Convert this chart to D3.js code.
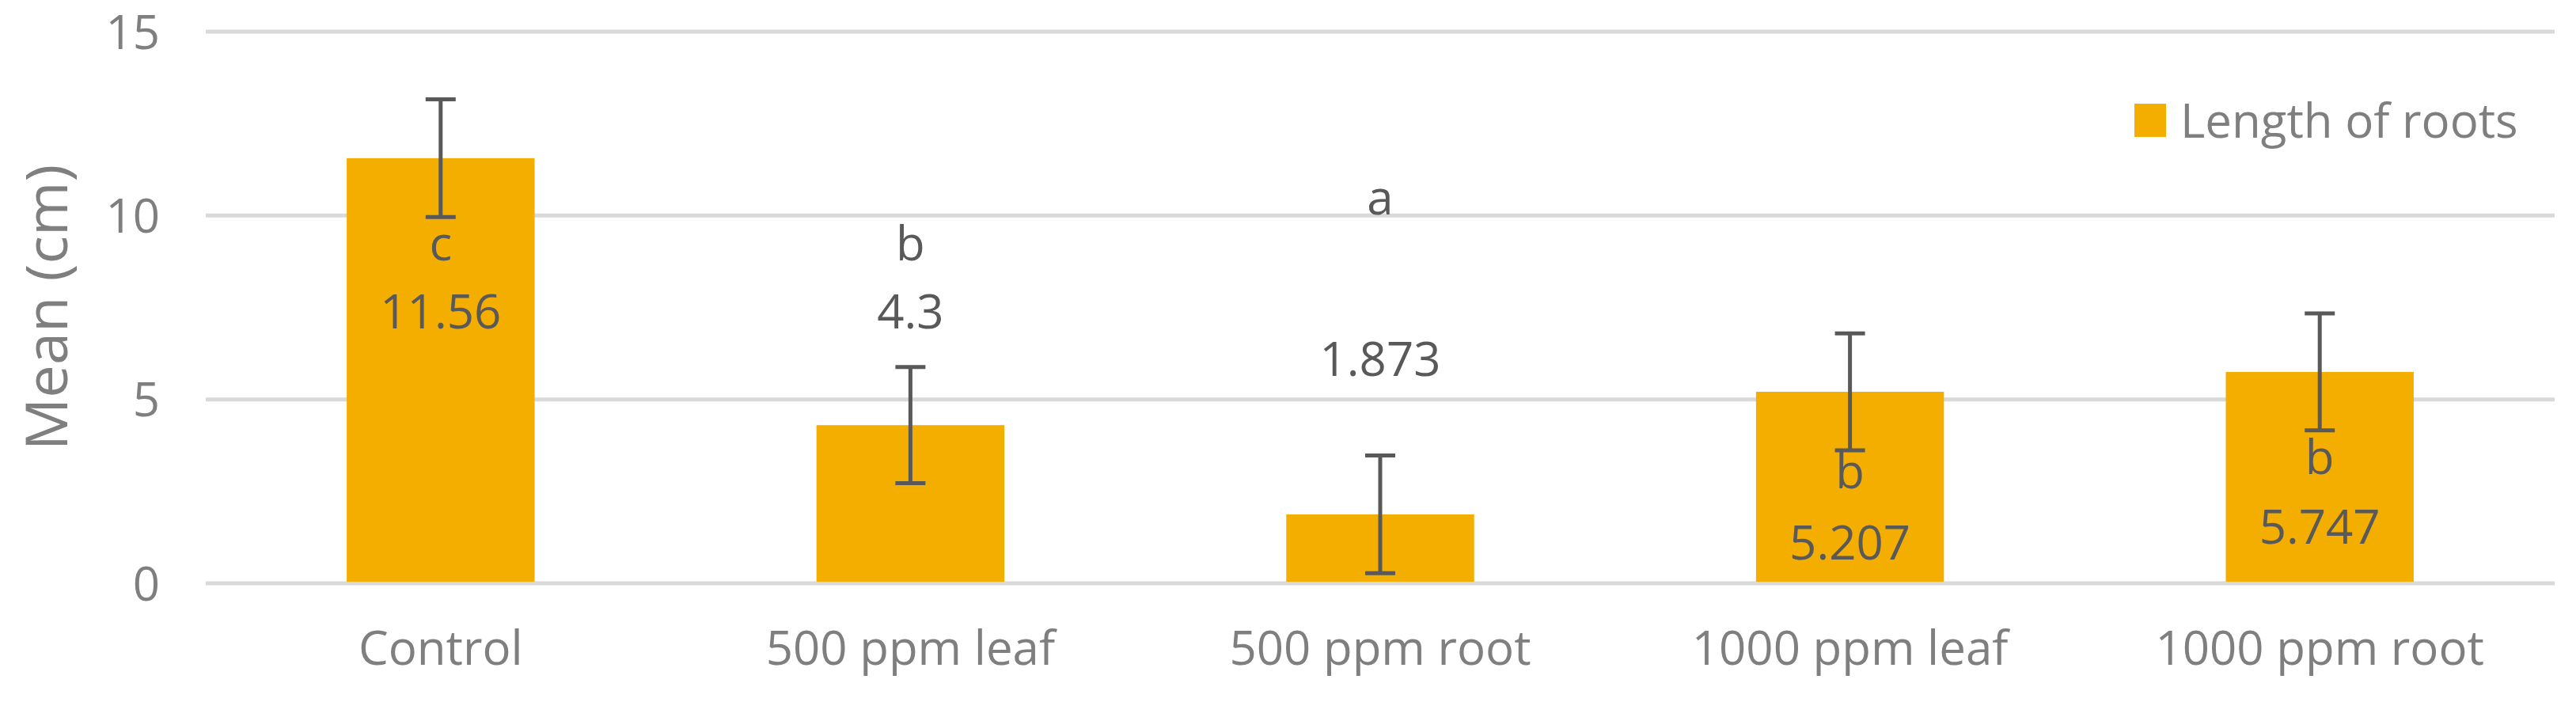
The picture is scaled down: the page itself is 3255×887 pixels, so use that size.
<!DOCTYPE html>
<html><head><meta charset="utf-8">
<script src="https://cdn.jsdelivr.net/npm/d3@7"></script>
<style>body{margin:0;background:#fff}text{font-family:"Open Sans",sans-serif}</style>
</head><body><div id="chart"></div>
<script>
const categories = ["Control", "500 ppm leaf", "500 ppm root", "1000 ppm leaf", "1000 ppm root"];
const means = [11.56, 4.3, 1.873, 5.207, 5.747];
const errors = [1.6, 1.58, 1.6, 1.59, 1.59];
const letters = ["c", "b", "a", "b", "b"];
const letterAt = [9.25, 9.25, 10.5, 3.05, 3.43];
const valueAt = [7.4, 7.4, 6.1, 1.12, 1.55];
const yTicks = [0, 5, 10, 15];

const width = 3255, height = 887,
  margin = { top: 40, right: 27, bottom: 150, left: 260 };

const svg = d3.select("#chart").append("svg").attr("width", width).attr("height", height);

const x = d3.scaleBand().domain(categories).range([margin.left, width - margin.right]).paddingInner(0.6).paddingOuter(0.3);
const y = d3.scaleLinear().domain([0, 15]).range([height - margin.bottom, margin.top]);

// gridlines
svg.append("g").selectAll("line").data(yTicks).join("line")
  .attr("x1", margin.left).attr("x2", width - margin.right)
  .attr("y1", d => y(d)).attr("y2", d => y(d))
  .attr("stroke", "#d9d9d9").attr("stroke-width", 5);

svg.append("g").selectAll("text").data(yTicks).join("text")
  .attr("x", margin.left - 58).attr("y", d => y(d)).attr("dy", "0.36em")
  .attr("text-anchor", "end").attr("font-size", 60).attr("fill", "#7f7f7f").text(d => d);

// bars
svg.append("g").selectAll("rect").data(categories).join("rect")
  .attr("x", d => x(d)).attr("width", x.bandwidth())
  .attr("y", (d, i) => y(means[i])).attr("height", (d, i) => y(0) - y(means[i]) - 2)
  .attr("fill", "#f4ae00");

// error bars
const eb = svg.append("g").attr("stroke", "#595959").attr("stroke-width", 5);
categories.forEach((c, i) => {
  const cx = x(c) + x.bandwidth() / 2;
  eb.append("line").attr("x1", cx).attr("x2", cx).attr("y1", y(means[i] + errors[i])).attr("y2", y(means[i] - errors[i]));
  [means[i] + errors[i], means[i] - errors[i]].forEach(v =>
    eb.append("line").attr("x1", cx - 19).attr("x2", cx + 19).attr("y1", y(v)).attr("y2", y(v)));
});

// data labels
const lab = svg.append("g").attr("text-anchor", "middle").attr("fill", "#595959").attr("font-size", 60);
categories.forEach((c, i) => {
  const cx = x(c) + x.bandwidth() / 2;
  lab.append("text").attr("x", cx).attr("y", y(letterAt[i])).attr("dy", "0.36em").text(letters[i]);
  lab.append("text").attr("x", cx).attr("y", y(valueAt[i])).attr("dy", "0.36em").text(means[i]);
});

// category labels
svg.append("g").selectAll("text").data(categories).join("text")
  .attr("x", d => x(d) + x.bandwidth() / 2).attr("y", 840)
  .attr("text-anchor", "middle").attr("font-size", 60).attr("fill", "#7f7f7f").text(d => d);

// axis title
svg.append("text").attr("transform", `translate(85,${(y(0) + y(15)) / 2}) rotate(-90)`)
  .attr("text-anchor", "middle").attr("font-size", 74).attr("fill", "#7f7f7f").text("Mean (cm)");

// legend
svg.append("rect").attr("x", 2697).attr("y", 131).attr("width", 40).attr("height", 42).attr("fill", "#f4ae00");
svg.append("text").attr("x", 2755).attr("y", 152).attr("dy", "0.36em")
  .attr("font-size", 60).attr("fill", "#7f7f7f").text("Length of roots");
</script></body></html>
